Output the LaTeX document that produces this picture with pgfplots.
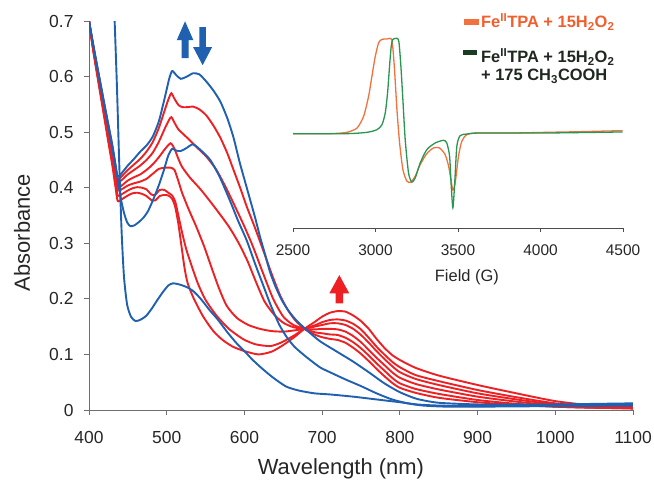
\documentclass[border=0pt]{standalone}
\usepackage{pgfplots}
\pgfplotsset{compat=1.18}
\usepackage{fontspec}
\setmainfont{Liberation Sans}
\definecolor{cred}{RGB}{237,32,36}
\definecolor{cblue}{RGB}{31,96,176}
\definecolor{corange}{RGB}{242,113,60}
\definecolor{cgreen}{RGB}{40,150,80}
\definecolor{legA}{RGB}{240,95,45}
\definecolor{legB}{RGB}{30,40,30}
\definecolor{legBm}{RGB}{25,60,35}
\definecolor{axgray}{RGB}{110,110,110}
\begin{document}
\begin{tikzpicture}
\path[use as bounding box] (0bp,0bp) rectangle (654bp,485bp);
\begin{axis}[
  at={(89bp,75bp)}, anchor=south west,
  scale only axis, width=544bp, height=389bp,
  xmin=400, xmax=1100, ymin=0, ymax=0.7,
  axis x line*=bottom, axis y line*=left,
  axis line style={-, axgray, line width=1bp},
  tick align=outside, major tick length=5bp,
  tick style={axgray, line width=0.9bp},
  xtick={400,500,...,1100},
  ytick={0,0.1,...,0.7},
  /pgf/number format/assume math mode=true,
  /pgf/number format/1000 sep={},
  yticklabel style={/pgf/number format/fixed, /pgf/number format/precision=1, xshift=-7bp},
  xticklabel style={yshift=-13bp},
  tick label style={font=\fontsize{17.5}{20}\selectfont, text=black!85},
  xlabel={Wavelength (nm)}, ylabel={Absorbance},
  label style={font=\fontsize{22}{26}\selectfont, text=black!85},
  xlabel style={at={(axis description cs:0.463,-0.167)}, anchor=base},
  ylabel style={at={(axis description cs:-0.1085,0.456)}, anchor=base},
  clip mode=individual,
  every axis plot/.append style={line width=1.9bp, smooth, tension=0.4},
]
% red series
\addplot[cred] coordinates {(400,0.700)(405,0.660)(410,0.622)(415,0.585)(420,0.548)(425,0.512)(430,0.475)(434,0.440)(437,0.415)(443,0.422)(450,0.432)(458,0.442)(466,0.452)(474,0.465)(482,0.482)(490,0.508)(498,0.542)(503,0.562)(506,0.570)(510,0.560)(515,0.549)(520,0.545)(527,0.545)(534,0.546)(542,0.541)(551,0.530)(560,0.512)(569,0.490)(578,0.462)(586,0.432)(595,0.398)(603,0.366)(613,0.330)(624,0.288)(635,0.245)(646,0.206)(655,0.182)(665,0.162)(677,0.146)(690,0.136)(700,0.131)(710,0.128)(720,0.126)(730,0.121)(740,0.112)(750,0.101)(760,0.088)(770,0.074)(780,0.061)(790,0.049)(800,0.040)(820,0.031)(850,0.022)(900,0.014)(950,0.009)(1000,0.006)(1050,0.004)(1100,0.003)};
\addplot[cred] coordinates {(400,0.700)(405,0.658)(410,0.619)(415,0.581)(420,0.543)(425,0.506)(430,0.468)(434,0.433)(437,0.410)(443,0.415)(450,0.424)(458,0.432)(466,0.440)(474,0.450)(482,0.463)(490,0.483)(498,0.508)(503,0.522)(506,0.527)(510,0.517)(515,0.505)(521,0.497)(530,0.485)(540,0.471)(551,0.456)(564,0.432)(577,0.398)(590,0.360)(600,0.330)(611,0.294)(624,0.246)(637,0.200)(650,0.168)(663,0.153)(677,0.146)(690,0.140)(700,0.138)(710,0.136)(720,0.135)(730,0.130)(740,0.122)(750,0.111)(760,0.098)(770,0.084)(780,0.071)(790,0.058)(800,0.048)(820,0.038)(850,0.029)(900,0.018)(950,0.011)(1000,0.006)(1050,0.004)(1100,0.003)};
\addplot[cred] coordinates {(400,0.700)(405,0.656)(410,0.616)(415,0.577)(420,0.538)(425,0.500)(430,0.461)(434,0.425)(437,0.400)(443,0.405)(450,0.413)(458,0.419)(466,0.424)(474,0.432)(482,0.442)(490,0.455)(498,0.470)(505,0.480)(510,0.470)(515,0.452)(520,0.437)(530,0.418)(543,0.398)(555,0.377)(567,0.355)(580,0.330)(592,0.302)(604,0.268)(615,0.230)(626,0.195)(638,0.172)(650,0.157)(663,0.149)(677,0.146)(690,0.145)(700,0.146)(710,0.146)(720,0.145)(730,0.141)(740,0.133)(750,0.122)(760,0.108)(770,0.094)(780,0.081)(790,0.068)(800,0.058)(820,0.047)(850,0.037)(900,0.024)(950,0.015)(1000,0.008)(1050,0.005)(1100,0.003)};
\addplot[cred] coordinates {(400,0.700)(405,0.654)(410,0.613)(415,0.573)(420,0.533)(425,0.494)(430,0.454)(434,0.418)(437,0.395)(443,0.398)(450,0.404)(458,0.408)(466,0.411)(474,0.416)(482,0.425)(490,0.434)(498,0.436)(505,0.436)(510,0.432)(515,0.412)(520,0.390)(528,0.362)(538,0.330)(548,0.295)(558,0.255)(567,0.220)(577,0.188)(590,0.166)(605,0.153)(620,0.146)(635,0.142)(650,0.141)(663,0.143)(677,0.146)(690,0.150)(700,0.153)(710,0.156)(720,0.156)(730,0.153)(740,0.146)(750,0.135)(760,0.121)(770,0.106)(780,0.092)(790,0.079)(800,0.068)(820,0.056)(850,0.045)(900,0.030)(950,0.019)(1000,0.010)(1050,0.005)(1100,0.003)};
\addplot[cred] coordinates {(400,0.700)(405,0.652)(410,0.610)(415,0.569)(420,0.528)(425,0.487)(430,0.447)(434,0.410)(437,0.386)(443,0.389)(450,0.395)(456,0.399)(462,0.401)(468,0.400)(474,0.397)(480,0.388)(485,0.387)(491,0.396)(497,0.396)(502,0.391)(507,0.386)(511,0.375)(515,0.350)(520,0.318)(525,0.290)(530,0.268)(540,0.228)(550,0.198)(564,0.170)(580,0.146)(599,0.127)(615,0.118)(633,0.115)(645,0.120)(655,0.127)(665,0.135)(677,0.146)(690,0.152)(700,0.158)(710,0.162)(720,0.163)(730,0.161)(740,0.155)(750,0.145)(760,0.130)(770,0.114)(780,0.100)(790,0.087)(800,0.077)(820,0.063)(850,0.052)(900,0.036)(950,0.023)(1000,0.012)(1050,0.006)(1100,0.004)};
\addplot[cred] coordinates {(400,0.700)(405,0.650)(410,0.607)(415,0.565)(420,0.523)(425,0.481)(430,0.440)(434,0.402)(437,0.376)(443,0.380)(450,0.386)(456,0.390)(462,0.391)(468,0.389)(474,0.385)(480,0.378)(485,0.377)(491,0.385)(497,0.387)(502,0.386)(507,0.380)(511,0.365)(515,0.335)(519,0.295)(523,0.255)(527,0.228)(535,0.200)(547,0.168)(560,0.142)(572,0.126)(585,0.114)(600,0.106)(618,0.100)(635,0.105)(650,0.117)(665,0.132)(677,0.146)(690,0.158)(700,0.168)(710,0.175)(720,0.178)(730,0.177)(740,0.170)(750,0.160)(760,0.146)(770,0.128)(780,0.112)(790,0.099)(800,0.090)(820,0.076)(850,0.062)(900,0.045)(950,0.030)(1000,0.016)(1050,0.008)(1100,0.005)};
% blue series
\addplot[cblue] coordinates {(431,0.780)(433,0.700)(436,0.580)(439,0.440)(442,0.320)(445,0.240)(449,0.190)(454,0.168)(460,0.160)(467,0.163)(474,0.170)(481,0.183)(488,0.198)(495,0.212)(502,0.224)(508,0.228)(516,0.226)(526,0.221)(535,0.213)(545,0.198)(555,0.180)(565,0.164)(578,0.140)(590,0.120)(600,0.106)(610,0.091)(620,0.078)(630,0.066)(640,0.055)(654,0.042)(670,0.035)(690,0.030)(710,0.028)(740,0.024)(770,0.019)(800,0.014)(822,0.010)(850,0.008)(900,0.007)(950,0.008)(1000,0.009)(1050,0.010)(1100,0.010)};
\addplot[cblue] coordinates {(400,0.700)(405,0.661)(410,0.623)(415,0.586)(420,0.549)(425,0.513)(430,0.477)(434,0.443)(437,0.420)(443,0.428)(450,0.440)(458,0.452)(466,0.465)(474,0.476)(482,0.492)(490,0.520)(498,0.565)(503,0.595)(507,0.610)(512,0.603)(518,0.596)(526,0.600)(534,0.606)(542,0.604)(551,0.591)(560,0.575)(569,0.555)(578,0.525)(586,0.490)(594,0.445)(600,0.415)(607,0.380)(614,0.345)(620,0.312)(627,0.278)(633,0.248)(640,0.222)(648,0.198)(657,0.178)(667,0.161)(680,0.144)(697,0.124)(719,0.105)(740,0.087)(762,0.066)(780,0.048)(800,0.032)(822,0.020)(850,0.013)(900,0.010)(950,0.010)(1000,0.010)(1050,0.011)(1100,0.012)};
\addplot[cblue] coordinates {(400,0.700)(405,0.659)(410,0.620)(415,0.583)(420,0.545)(425,0.508)(430,0.470)(434,0.438)(437,0.415)(441,0.380)(445,0.355)(449,0.338)(453,0.331)(458,0.332)(464,0.338)(470,0.346)(476,0.358)(483,0.380)(490,0.405)(496,0.430)(502,0.458)(507,0.470)(512,0.467)(518,0.466)(525,0.471)(534,0.478)(545,0.466)(556,0.450)(568,0.420)(581,0.378)(592,0.340)(603,0.305)(614,0.262)(624,0.225)(634,0.188)(645,0.153)(655,0.130)(665,0.113)(680,0.095)(697,0.077)(710,0.068)(730,0.055)(750,0.043)(770,0.030)(790,0.019)(810,0.012)(830,0.008)(860,0.006)(900,0.006)(1000,0.007)(1100,0.008)};
% arrows
\fill[cblue] (axis cs:519.1,0.633) -- (axis cs:528.1,0.633) -- (axis cs:528.1,0.6655) -- (axis cs:534.3,0.6655) -- (axis cs:523.6,0.6995) -- (axis cs:512.9,0.6655) -- (axis cs:519.1,0.6655) -- cycle;
\fill[cblue] (axis cs:541.9,0.689) -- (axis cs:550.5,0.689) -- (axis cs:550.5,0.653) -- (axis cs:558.4,0.653) -- (axis cs:546.2,0.6205) -- (axis cs:534.0,0.653) -- (axis cs:541.9,0.653) -- cycle;
\fill[cred] (axis cs:717.2,0.1919) -- (axis cs:727.0,0.1919) -- (axis cs:727.0,0.2098) -- (axis cs:735.0,0.2098) -- (axis cs:722.1,0.2428) -- (axis cs:709.2,0.2098) -- (axis cs:717.2,0.2098) -- cycle;
\end{axis}
\begin{axis}[
  at={(293bp,257bp)}, anchor=south west,
  scale only axis, width=330bp, height=198bp,
  xmin=2500, xmax=4500, ymin=-1.011, ymax=1.096,
  axis x line*=bottom, axis y line=none,
  axis line style={-, black!70, line width=0.9bp},
  tick align=outside, major tick length=4bp,
  tick style={black!70, line width=0.8bp},
  xtick={2500,3000,...,4500},
  /pgf/number format/assume math mode=true,
  /pgf/number format/1000 sep={},
  xticklabel style={yshift=-9bp},
  tick label style={font=\fontsize{15.5}{18}\selectfont, text=black!85},
  xlabel={Field (G)},
  xlabel style={font=\fontsize{16.5}{19}\selectfont, text=black!85, at={(axis description cs:0.527,-0.27)}, anchor=base},
  every axis plot/.append style={line width=1.3bp, smooth, tension=0.4},
]
\addplot[corange] coordinates {(2500,-0.007)(2726,-0.007)(2827,0.007)(2888,0.053)(2928,0.177)(2958,0.389)(2978,0.600)(2998,0.810)(3019,0.960)(3039,0.996)(3069,1.000)(3099,0.990)(3114,0.707)(3130,0.247)(3146,-0.106)(3166,-0.389)(3190,-0.512)(3214,-0.523)(3241,-0.459)(3271,-0.336)(3311,-0.219)(3352,-0.159)(3388,-0.159)(3422,-0.230)(3443,-0.353)(3457,-0.495)(3469,-0.608)(3483,-0.530)(3503,-0.247)(3523,-0.088)(3553,-0.018)(3614,0.000)(3836,0.000)(4038,0.007)(4240,0.014)(4498,0.025)};
\addplot[cgreen] coordinates {(2500,-0.007)(2827,-0.007)(2948,0.007)(3009,0.035)(3039,0.088)(3059,0.212)(3073,0.424)(3085,0.707)(3095,0.919)(3105,0.996)(3130,1.007)(3142,0.970)(3154,0.707)(3166,0.353)(3180,-0.071)(3200,-0.424)(3220,-0.523)(3241,-0.477)(3271,-0.318)(3311,-0.177)(3362,-0.106)(3412,-0.078)(3432,-0.106)(3449,-0.247)(3459,-0.565)(3469,-0.795)(3479,-0.565)(3493,-0.141)(3513,-0.028)(3553,-0.011)(3634,0.000)(4038,0.000)(4498,0.011)};
\end{axis}
% legend of the inset
\fill[corange] (464bp,460bp) rectangle (479bp,466bp);
\fill[legBm] (463bp,430bp) rectangle (477bp,435bp);
\node[anchor=base west, inner sep=0pt, text=legA, font=\fontsize{16.5}{19}\selectfont\bfseries] at (481bp,457bp) {Fe\textsuperscript{II}TPA + 15H\textsubscript{2}O\textsubscript{2}};
\node[anchor=base west, inner sep=0pt, text=legB, font=\fontsize{16.5}{19}\selectfont\bfseries] at (481bp,422bp) {Fe\textsuperscript{II}TPA + 15H\textsubscript{2}O\textsubscript{2}};
\node[anchor=base west, inner sep=0pt, text=legB, font=\fontsize{16.5}{19}\selectfont\bfseries] at (481bp,404.5bp) {+ 175 CH\textsubscript{3}COOH};
\end{tikzpicture}
\end{document}
